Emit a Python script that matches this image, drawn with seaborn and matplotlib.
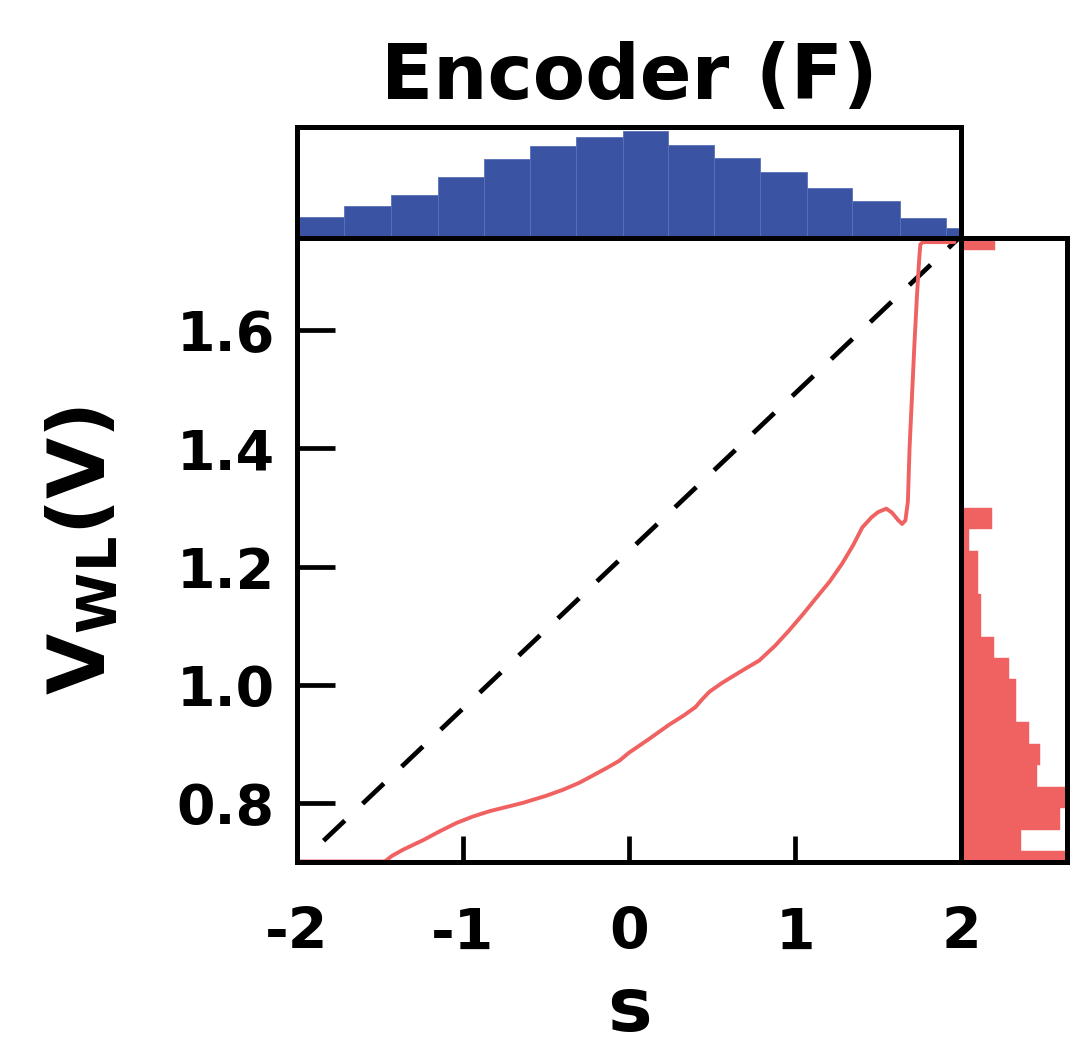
import numpy as np
import matplotlib
matplotlib.use("Agg")
import matplotlib.pyplot as plt
import seaborn as sns

# --- data ---
# top marginal: histogram of s (bar heights in % of the panel height)
s_edges = [-2.0, -1.715, -1.431, -1.149, -0.872, -0.596, -0.319, -0.034,
           0.234, 0.511, 0.788, 1.072, 1.346, 1.631, 1.907, 2.18]
s_heights = [19, 29, 39, 55, 71, 83, 91, 96, 84, 72, 59, 45, 33, 18, 9]

# right marginal: histogram of V_WL
v_edges = [0.6823, 0.7186, 0.7549, 0.7912, 0.8275, 0.8638, 0.9001, 0.9364,
           0.9727, 1.0090, 1.0453, 1.0816, 1.1179, 1.1542, 1.1905, 1.2268,
           1.2631, 1.2994, 1.3357, 1.3720, 1.4083, 1.4446, 1.4809, 1.5172,
           1.5535, 1.5898, 1.6261, 1.6624, 1.6987, 1.7350, 1.7713]
v_counts = [102, 59, 97, 104, 75, 77, 67, 54, 54, 47, 32, 20, 20, 17, 17, 8, 30,
            0, 0, 0, 0, 0, 0, 0, 0, 0, 0, 0, 0, 33]

# encoder transfer curve
curve_s = [-2.0, -1.47, -1.43, -1.36, -1.24, -1.14, -1.04, -0.94, -0.84, -0.74,
           -0.64, -0.50, -0.40, -0.30, -0.22, -0.135, -0.06, 0.0, 0.12, 0.24,
           0.33, 0.40, 0.44, 0.484, 0.56, 0.63, 0.70, 0.785, 0.88, 0.965, 1.05,
           1.128, 1.21, 1.284, 1.35, 1.405, 1.46, 1.50, 1.55, 1.585, 1.62,
           1.645, 1.665, 1.68, 1.69, 1.705, 1.72, 1.735, 1.748, 1.755, 1.77, 1.96]
curve_v = [0.701, 0.701, 0.710, 0.721, 0.737, 0.752, 0.766, 0.777, 0.786, 0.793,
           0.800, 0.812, 0.822, 0.834, 0.846, 0.859, 0.871, 0.885, 0.908, 0.932,
           0.948, 0.962, 0.975, 0.988, 1.003, 1.015, 1.027, 1.041, 1.066, 1.092,
           1.120, 1.147, 1.175, 1.205, 1.236, 1.266, 1.283, 1.292, 1.298, 1.291,
           1.279, 1.272, 1.278, 1.310, 1.400, 1.490, 1.580, 1.660, 1.720, 1.745,
           1.749, 1.749]

# ideal linear mapping (dashed)
ideal_s = [-1.84, 1.98]
ideal_v = [0.736, 1.754]

blue = "#3a53a3"
red = "#f06262"

sns.set_style("white")
plt.rcParams["font.family"] = ["DejaVu Sans"]
plt.rcParams["font.weight"] = "bold"
plt.rcParams["text.color"] = "black"
plt.rcParams["axes.labelcolor"] = "black"
plt.rcParams["xtick.color"] = "black"
plt.rcParams["ytick.color"] = "black"
plt.rcParams["axes.unicode_minus"] = False
plt.rcParams["axes.linewidth"] = 3.6
plt.rcParams["axes.edgecolor"] = "black"

fig = plt.figure(figsize=(10.71, 10.46), dpi=100)
ax = fig.add_axes([0.2773, 0.1759, 0.620, 0.5966])
ax_top = fig.add_axes([0.2773, 0.7725, 0.620, 0.1061])
ax_right = fig.add_axes([0.8973, 0.1759, 0.0990, 0.5966])

# top marginal
s_centers = (np.array(s_edges[:-1]) + np.array(s_edges[1:])) / 2
sns.histplot(x=s_centers, weights=s_heights, bins=s_edges, ax=ax_top,
             color=blue, alpha=1, edgecolor="#5a70b8", linewidth=0.6)
ax_top.set_xlim(-2, 2)
ax_top.set_ylim(0, 100)
ax_top.set_xticks([])
ax_top.set_yticks([])
ax_top.set_xlabel("")
ax_top.set_ylabel("")
ax_top.set_title("Encoder (F)", fontsize=55, fontweight="bold", pad=20)

# right marginal
v_centers = (np.array(v_edges[:-1]) + np.array(v_edges[1:])) / 2
sns.histplot(y=v_centers, weights=v_counts, bins=v_edges, ax=ax_right,
             color=red, alpha=1, edgecolor=red, linewidth=0.3)
ax_right.set_xlim(0, 104)
ax_right.set_ylim(0.7, 1.756)
ax_right.set_xticks([])
ax_right.set_yticks([])
ax_right.set_xlabel("")
ax_right.set_ylabel("")

# main panel
ax.plot(ideal_s, ideal_v, color="black", lw=3.4, linestyle=(0, (6.2, 5.2)))
sns.lineplot(x=curve_s, y=curve_v, ax=ax, color=red, lw=2.8,
             sort=False, estimator=None)
ax.set_xlim(-2, 2)
ax.set_ylim(0.7, 1.756)
ax.set_xticks([-2, -1, 0, 1, 2])
ax.set_yticks([0.8, 1.0, 1.2, 1.4, 1.6])
ax.set_yticklabels(["0.8", "1.0", "1.2", "1.4", "1.6"])
ax.tick_params(axis="x", bottom=True, direction="in", length=19, width=3.4,
               labelsize=41, pad=32)
ax.tick_params(axis="y", left=True, direction="in", length=27, width=3.4,
               labelsize=40, pad=16)
for lab in ax.get_xticklabels() + ax.get_yticklabels():
    lab.set_fontweight("bold")
ax.set_xlabel("s", fontsize=54, fontweight="bold", labelpad=9)
ax.set_ylabel(r"$\mathbf{V_{WL}(V)}$", fontsize=57, labelpad=40)

fig.savefig("out.png", dpi=100)
